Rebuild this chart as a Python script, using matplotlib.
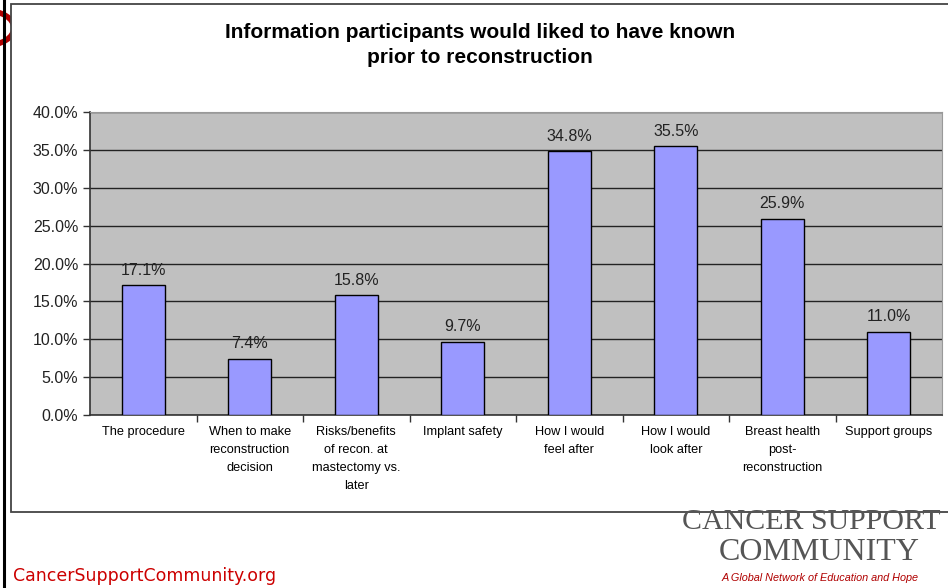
import matplotlib.pyplot as plt
from matplotlib.patches import Rectangle, Circle

plt.rcParams['font.family'] = ['Liberation Sans', 'DejaVu Sans']

# Данные графика
categories = ['The procedure', 'When to make\nreconstruction\ndecision',
              'Risks/benefits\nof recon. at\nmastectomy vs.\nlater',
              'Implant safety', 'How I would\nfeel after', 'How I would\nlook after',
              'Breast health\npost-\nreconstruction', 'Support groups']
values = [17.1, 7.4, 15.8, 9.7, 34.8, 35.5, 25.9, 11.0]
y_ticks = [0, 5, 10, 15, 20, 25, 30, 35, 40]

W, H = 948, 588
fig = plt.figure(figsize=(W / 100, H / 100), dpi=100)


def fx(px):
    return px / W


def fy(py):
    return 1 - py / H


# Рамка слайда и декоративные круги
fig.add_artist(Circle((fx(-14), fy(28)), fx(28), transform=fig.transFigure,
                      fill=False, ec='#b00000', lw=4, clip_on=False, zorder=-3))
fig.add_artist(Circle((fx(56), fy(-20)), fx(26), transform=fig.transFigure,
                      fill=False, ec='#b00000', lw=4, clip_on=False, zorder=-1))
fig.add_artist(Rectangle((fx(11), fy(512)), 1.0, (512 - 4) / H,
                         transform=fig.transFigure, fill=True, fc='white',
                         ec='#444444', lw=1.3, zorder=-2))
fig.add_artist(plt.Line2D([fx(4), fx(4)], [0, 1], color='black', lw=2.2, zorder=-1))

ax = fig.add_axes([fx(90), fy(415), fx(942) - fx(90), (415 - 112) / H])
ax.set_facecolor('#C0C0C0')
x = range(len(values))
bars = ax.bar(x, values, width=0.4, color='#9999FF', edgecolor='black', lw=1.0, zorder=3)

for xi, v in zip(x, values):
    ax.text(xi, v + 1.0, f'{v:.1f}%', ha='center', va='bottom', fontsize=11.5, color='#222222')

ax.set_ylim(0, 40)
ax.set_xlim(-0.5, len(values) - 0.5)
ax.set_yticks(y_ticks)
ax.set_yticklabels([f'{t:.1f}%' for t in y_ticks], fontsize=11.5, color='#222222')
ax.yaxis.grid(True, color='#222222', lw=1.0, zorder=0)
ax.set_axisbelow(True)

# подписи категорий без делений, деления между категориями
ax.set_xticks(list(x))
ax.set_xticklabels(categories, fontsize=9.2, linespacing=1.68, va='top')
ax.tick_params(axis='x', length=0, pad=8)
ax.set_xticks([i + 0.5 for i in range(len(values) - 1)], minor=True)
ax.tick_params(axis='x', which='minor', length=5, width=1, color='#333333')
ax.tick_params(axis='y', length=5, width=1, color='#333333')

for side in ['top', 'right']:
    ax.spines[side].set_color('#999999')
for side in ['left', 'bottom']:
    ax.spines[side].set_color('#333333')
    ax.spines[side].set_linewidth(1.2)

fig.text(fx(480), fy(45), 'Information participants would liked to have known\nprior to reconstruction',
         ha='center', va='center', fontsize=15, fontweight='bold', linespacing=1.45)

# Подписи внизу
fig.text(fx(13), fy(576), 'CancerSupportCommunity.org', ha='left', va='center',
         fontsize=12.5, color='#cc0000', family='DejaVu Sans')
fig.text(fx(682), fy(522), 'CANCER SUPPORT', ha='left', va='center', fontsize=21.5,
         color='#555555', family='Liberation Serif')
fig.text(fx(819), fy(553), 'COMMUNITY', ha='center', va='center', fontsize=23,
         color='#555555', family='Liberation Serif')
fig.text(fx(820), fy(578), 'A Global Network of Education and Hope', ha='center', va='center',
         fontsize=7.8, color='#b00000', style='italic')

fig.savefig('out.png', dpi=100)
